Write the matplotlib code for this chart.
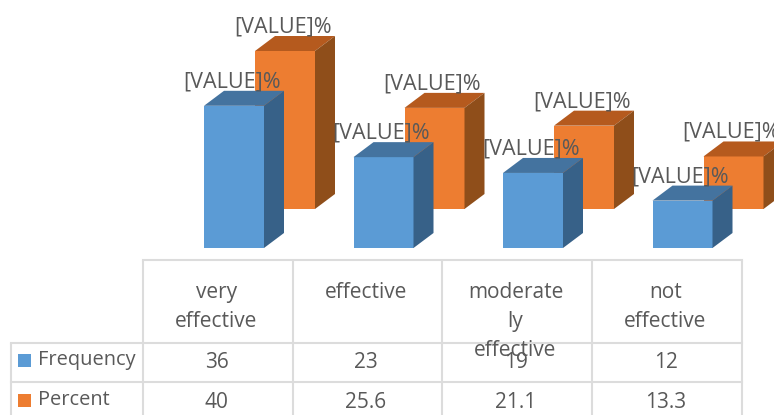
"""3D-look clustered bars with a data table underneath."""
import matplotlib
matplotlib.use("Agg")
import matplotlib.pyplot as plt
from matplotlib.patches import Polygon, Rectangle

categories = ["very\neffective", "effective", "moderate\nly\neffective", "not\neffective"]
frequency = [36, 23, 19, 12]
percent = [40, 25.6, 21.1, 13.3]
freq_labels = ["36", "23", "19", "12"]
pct_labels = ["40", "25.6", "21.1", "13.3"]
series_names = ["Frequency", "Percent"]

W, H = 774, 415
PX_PER_CAT = 149.5
PX_PER_VAL = 3.95
TEXT = "#595959"
GRID = "#dcdcdc"
FONT = "Open Sans"
FS = 15

fig = plt.figure(figsize=(W / 100, H / 100), dpi=100)

# bars axes: x in category units, y in values, baseline at pixel row 248
ax = fig.add_axes([0, 0, 1, 1])
ax.set_xlim(-234 / PX_PER_CAT, (W - 234) / PX_PER_CAT)
ax.set_ylim(-(H - 248) / PX_PER_VAL, 248 / PX_PER_VAL)
ax.axis("off")

bar_w = 60 / PX_PER_CAT
depth_x = 20 / PX_PER_CAT
depth_y = 15 / PX_PER_VAL


def draw_bar(x, base, val, front, top, side):
    left, right = x - bar_w / 2, x + bar_w / 2
    ytop = base + val
    ax.bar(x, val, bar_w, bottom=base, color=front, linewidth=0, zorder=3)
    ax.add_patch(Polygon([(left, ytop), (right, ytop), (right + depth_x, ytop + depth_y),
                          (left + depth_x, ytop + depth_y)], closed=True, fc=top, lw=0, zorder=3))
    ax.add_patch(Polygon([(right, base), (right + depth_x, base + depth_y),
                          (right + depth_x, ytop + depth_y), (right, ytop)], closed=True, fc=side, lw=0, zorder=3))


def value_label(x, y):
    ax.annotate("[VALUE]%", (x, y), xytext=(-1.5, 24 * 0.72), textcoords="offset points",
                ha="center", va="center", color=TEXT, fontsize=15.5, family=FONT, zorder=5,
                annotation_clip=False)


orange_dx = 51 / PX_PER_CAT
orange_base = 39 / PX_PER_VAL
for i in range(len(categories)):
    draw_bar(i + orange_dx, orange_base, percent[i], "#ed7d31", "#b55a1e", "#8f4e1a")
    draw_bar(i, 0, frequency[i], "#5b9bd5", "#44739f", "#376188")
    value_label(i + orange_dx, orange_base + percent[i])
    value_label(i, frequency[i])

# table axes: plain pixel coordinates
tb = fig.add_axes([0, 0, 1, 1], facecolor="none")
tb.set_xlim(0, W)
tb.set_ylim(H, 0)
tb.axis("off")

col_x = [143, 293, 442, 592, 742]
for x in col_x:
    tb.plot([x, x], [260, H], color=GRID, lw=1.5, solid_capstyle="butt")
tb.plot([11, 11], [343, H], color=GRID, lw=1.5, solid_capstyle="butt")
tb.plot([143, 742], [260, 260], color=GRID, lw=1.5)
tb.plot([11, 742], [343, 343], color=GRID, lw=1.5)
tb.plot([11, 742], [382, 382], color=GRID, lw=1.5)

for i, cat in enumerate(categories):
    cx = (col_x[i] + col_x[i + 1]) / 2 - 1.5
    for j, line in enumerate(cat.split("\n")):
        tb.text(cx, 292 + 29 * j, line, ha="center", va="center", color=TEXT, fontsize=FS, family=FONT)
    tb.text(cx, 362, freq_labels[i], ha="center", va="center", color=TEXT, fontsize=FS, family=FONT)
    tb.text(cx, 402, pct_labels[i], ha="center", va="center", color=TEXT, fontsize=FS, family=FONT)

for name, color, y in zip(series_names, ["#5b9bd5", "#ed7d31"], [360, 400]):
    tb.add_patch(Rectangle((18, y - 6), 13, 13, fc=color, lw=0))
    tb.text(38, y, name, ha="left", va="center", color=TEXT, fontsize=14.4, family=FONT)

fig.savefig("out.png", dpi=100)
plt.close(fig)
